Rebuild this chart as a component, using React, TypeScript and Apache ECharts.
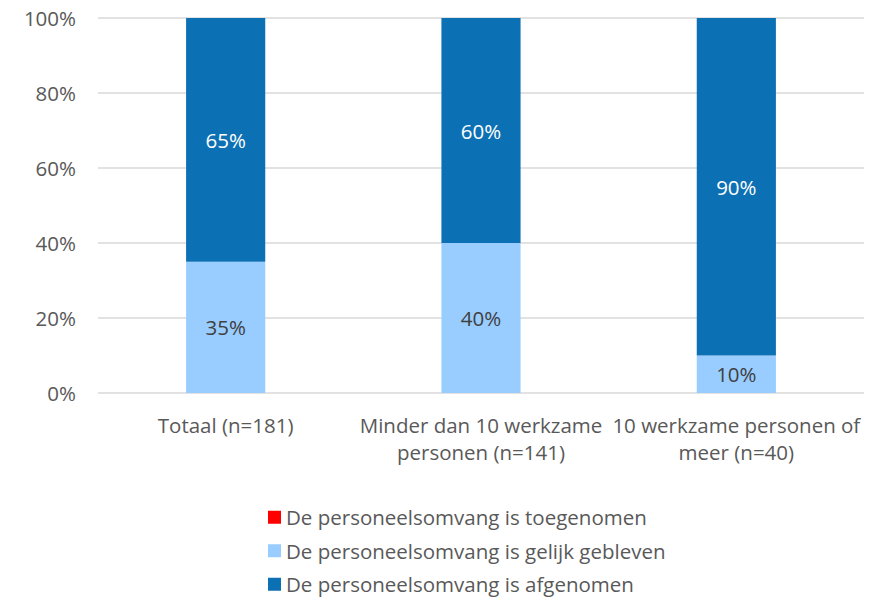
import React, { useEffect, useRef } from "react";
import * as echarts from "echarts";

const categories = [
  "Totaal (n=181)",
  "Minder dan 10 werkzame\npersonen (n=141)",
  "10 werkzame personen of\nmeer (n=40)",
];
const seriesNames = [
  "De personeelsomvang is toegenomen",
  "De personeelsomvang is gelijk gebleven",
  "De personeelsomvang is afgenomen",
];
const toegenomen = [0, 0, 0];
const gelijk = [35, 40, 10];
const afgenomen = [65, 60, 90];
const yTicks = [0, 20, 40, 60, 80, 100];

const FONT = "Open Sans";
const TEXT = "#595959";
const FS = 20.5;

export default function App() {
  const ref = useRef<HTMLDivElement>(null);
  useEffect(() => {
    const chart = echarts.init(ref.current!, undefined, { renderer: "svg" });
    const label = (color: string) => ({
      show: true,
      position: "inside" as const,
      formatter: (p: any) => (p.value > 0 ? p.value + "%" : ""),
      color,
      fontFamily: FONT,
      fontSize: FS,
    });
    chart.setOption({
      animation: false,
      textStyle: { fontFamily: FONT },
      grid: { left: 98, right: 7, top: 18, bottom: 207, containLabel: false },
      xAxis: {
        type: "category",
        data: categories,
        axisLine: { show: false },
        axisTick: { show: false },
        axisLabel: {
          color: TEXT,
          fontFamily: FONT,
          fontSize: FS,
          lineHeight: 27,
          margin: 18,
          interval: 0,
        },
      },
      yAxis: {
        type: "value",
        min: yTicks[0],
        max: yTicks[yTicks.length - 1],
        interval: 20,
        axisLine: { show: false },
        axisTick: { show: false },
        splitLine: { lineStyle: { color: "#D9D9D9", width: 1.5 } },
        axisLabel: {
          color: TEXT,
          fontFamily: FONT,
          fontSize: FS,
          margin: 22,
          formatter: (v: number) => v + "%",
        },
      },
      legend: {
        orient: "vertical",
        left: 268,
        top: 506,
        height: 94,
        padding: 0,
        itemWidth: 13,
        itemHeight: 13,
        itemGap: 11,
        icon: "rect",
        textStyle: { color: TEXT, fontFamily: FONT, fontSize: FS, lineHeight: 22.5 },
        data: seriesNames,
      },
      series: [
        {
          name: seriesNames[0],
          type: "bar",
          stack: "t",
          data: toegenomen,
          barWidth: "31%",
          itemStyle: { color: "#FF0000" },
          label: label("#FFFFFF"),
        },
        {
          name: seriesNames[1],
          type: "bar",
          stack: "t",
          data: gelijk,
          barWidth: "31%",
          itemStyle: { color: "#99CCFF" },
          label: label("#404040"),
        },
        {
          name: seriesNames[2],
          type: "bar",
          stack: "t",
          data: afgenomen,
          barWidth: "31%",
          itemStyle: { color: "#0C70B4" },
          label: label("#FFFFFF"),
        },
      ],
    });
    return () => chart.dispose();
  }, []);
  return <div ref={ref} style={{ width: 871, height: 600, position: "absolute", left: 0, top: 0 }} />;
}
